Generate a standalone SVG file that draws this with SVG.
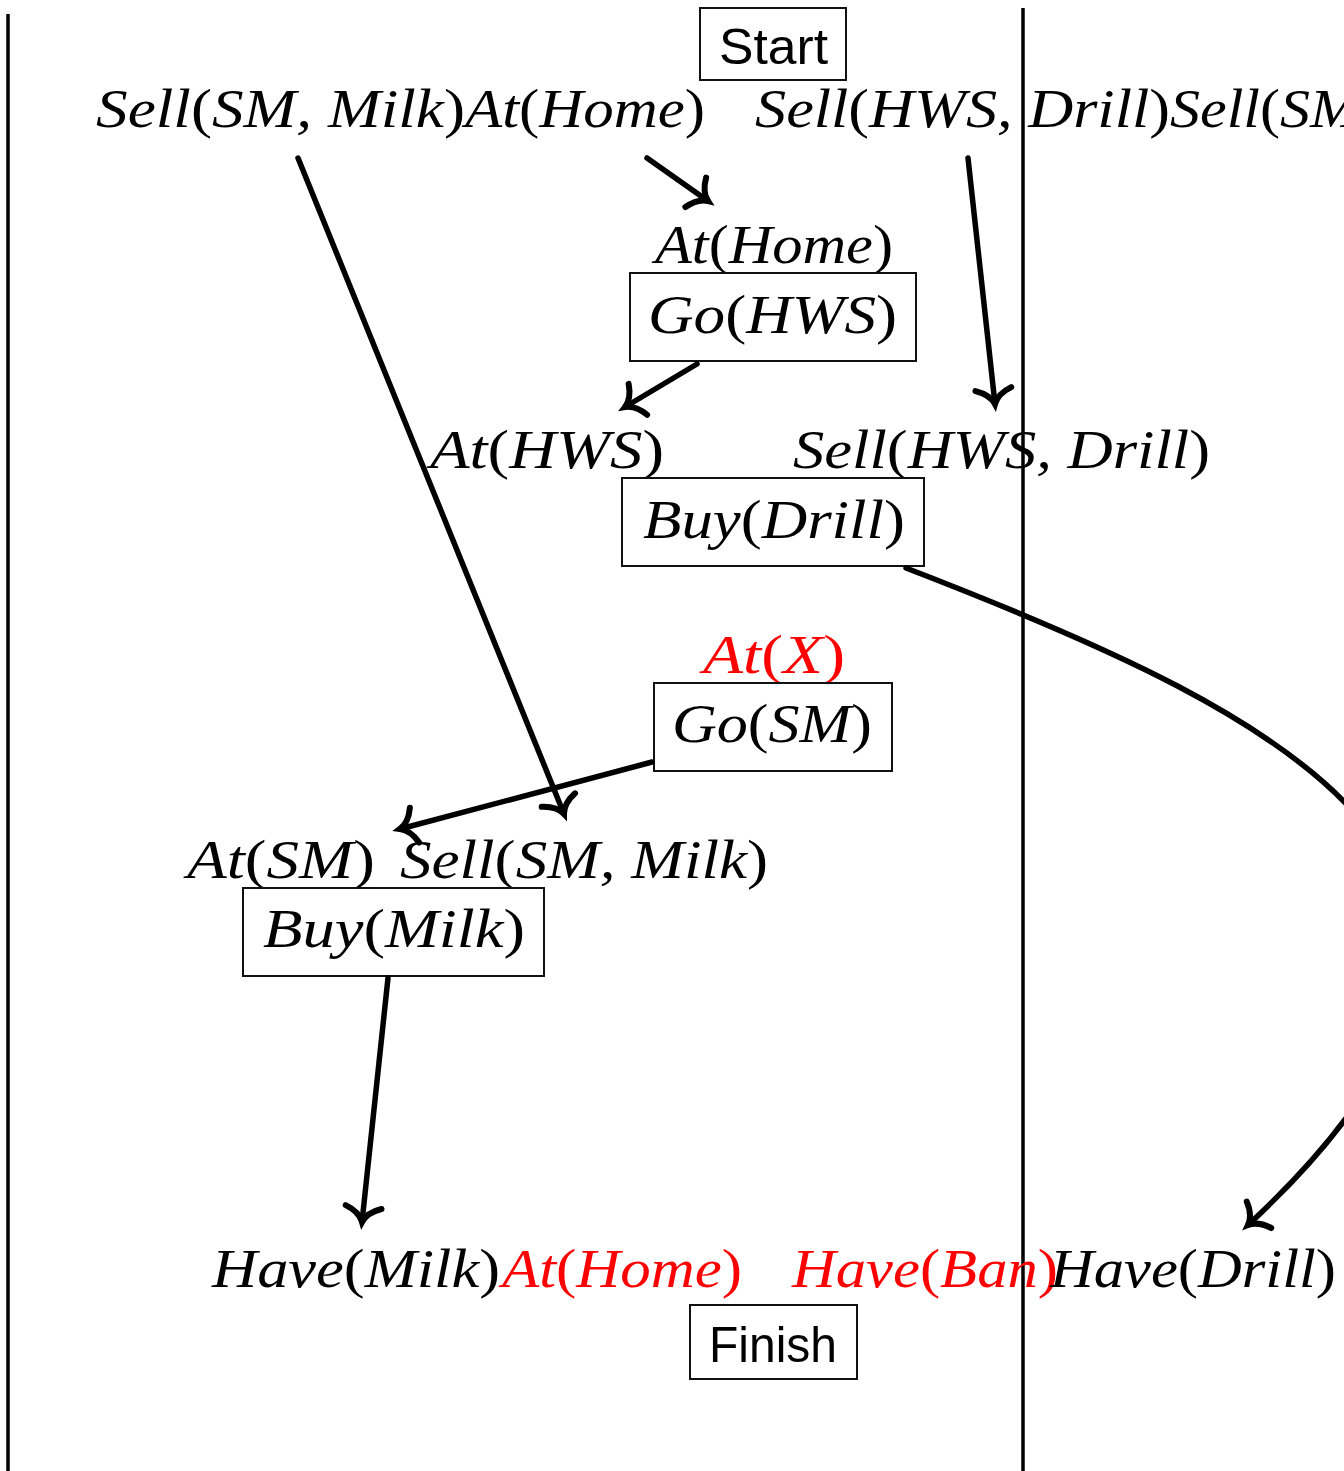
<svg xmlns="http://www.w3.org/2000/svg" width="1344" height="1471" viewBox="0 0 1344 1471">
  <style>
    .m { font-family: "Liberation Serif", "DejaVu Serif", serif; font-style: italic; font-size: 54px; fill: #000; }
    .m .u { font-style: normal; }
    .red { fill: #ff0000; }
    .sans { font-family: "Liberation Sans", "DejaVu Sans", sans-serif; font-size: 50px; fill: #000; }
    .box { fill: #fff; stroke: #111; stroke-width: 2; }
    .rule { stroke: #000; stroke-width: 3.5; }
    .edge { fill: none; stroke: #000; stroke-width: 5.5; stroke-linecap: round; }
  </style>
  <defs>
    <marker id="to" markerUnits="userSpaceOnUse" markerWidth="50" markerHeight="50" viewBox="-25 -25 50 50" refX="0" refY="0" orient="auto" overflow="visible">
      <path d="M -15 -18 C -11 -7 -5 -2 0 0 C -5 2 -11 7 -15 18" fill="none" stroke="#000" stroke-width="6" stroke-linecap="round"/>
    </marker>
  </defs>
  <rect width="1344" height="1471" fill="#fff"/>

  <!-- frame rules -->
  <g id="rules">
    <line class="rule" x1="8" y1="14" x2="8" y2="1471"/>
    <line class="rule" x1="1023" y1="8" x2="1023" y2="1471"/>
  </g>

  <!-- Start step and its effects -->
  <g id="start">
    <rect class="box" x="700" y="8" width="146" height="72"/>
    <text class="sans" x="719" y="64" textLength="109" lengthAdjust="spacingAndGlyphs">Start</text>
    <text class="m" x="96" y="127" textLength="369" lengthAdjust="spacingAndGlyphs">Sell<tspan class="u">(</tspan>SM, Milk<tspan class="u">)</tspan></text>
    <text class="m" x="465" y="127" textLength="240" lengthAdjust="spacingAndGlyphs">At<tspan class="u">(</tspan>Home<tspan class="u">)</tspan></text>
    <text class="m" x="755" y="127" textLength="415" lengthAdjust="spacingAndGlyphs">Sell<tspan class="u">(</tspan>HWS, Drill<tspan class="u">)</tspan></text>
    <text class="m" x="1170" y="127" textLength="190" lengthAdjust="spacingAndGlyphs">Sell<tspan class="u">(</tspan>SM</text>
  </g>

  <!-- Go(HWS) -->
  <g id="go-hws">
    <text class="m" x="655" y="263" textLength="238" lengthAdjust="spacingAndGlyphs">At<tspan class="u">(</tspan>Home<tspan class="u">)</tspan></text>
    <rect class="box" x="630" y="273" width="286" height="88"/>
    <text class="m" x="648" y="333" textLength="249" lengthAdjust="spacingAndGlyphs">Go<tspan class="u">(</tspan>HWS<tspan class="u">)</tspan></text>
  </g>

  <!-- Buy(Drill) -->
  <g id="buy-drill">
    <text class="m" x="430" y="468" textLength="234" lengthAdjust="spacingAndGlyphs">At<tspan class="u">(</tspan>HWS<tspan class="u">)</tspan></text>
    <text class="m" x="793" y="468" textLength="417" lengthAdjust="spacingAndGlyphs">Sell<tspan class="u">(</tspan>HWS, Drill<tspan class="u">)</tspan></text>
    <rect class="box" x="622" y="478" width="302" height="88"/>
    <text class="m" x="643" y="538" textLength="262" lengthAdjust="spacingAndGlyphs">Buy<tspan class="u">(</tspan>Drill<tspan class="u">)</tspan></text>
  </g>

  <!-- Go(SM) -->
  <g id="go-sm">
    <text class="m red" x="703" y="673" textLength="142" lengthAdjust="spacingAndGlyphs">At<tspan class="u">(</tspan>X<tspan class="u">)</tspan></text>
    <rect class="box" x="654" y="683" width="238" height="88"/>
    <text class="m" x="672" y="742" textLength="200" lengthAdjust="spacingAndGlyphs">Go<tspan class="u">(</tspan>SM<tspan class="u">)</tspan></text>
  </g>

  <!-- Buy(Milk) -->
  <g id="buy-milk">
    <text class="m" x="187" y="878" textLength="188" lengthAdjust="spacingAndGlyphs">At<tspan class="u">(</tspan>SM<tspan class="u">)</tspan></text>
    <text class="m" x="400" y="878" textLength="368" lengthAdjust="spacingAndGlyphs">Sell<tspan class="u">(</tspan>SM, Milk<tspan class="u">)</tspan></text>
    <rect class="box" x="243" y="888" width="301" height="88"/>
    <text class="m" x="263" y="947" textLength="262" lengthAdjust="spacingAndGlyphs">Buy<tspan class="u">(</tspan>Milk<tspan class="u">)</tspan></text>
  </g>

  <!-- Finish step and its goals -->
  <g id="finish">
    <text class="m" x="212" y="1287" textLength="288" lengthAdjust="spacingAndGlyphs">Have<tspan class="u">(</tspan>Milk<tspan class="u">)</tspan></text>
    <text class="m red" x="502" y="1287" textLength="240" lengthAdjust="spacingAndGlyphs">At<tspan class="u">(</tspan>Home<tspan class="u">)</tspan></text>
    <text class="m red" x="792" y="1287" textLength="266" lengthAdjust="spacingAndGlyphs">Have<tspan class="u">(</tspan>Ban<tspan class="u">)</tspan></text>
    <text class="m" x="1050" y="1287" textLength="286" lengthAdjust="spacingAndGlyphs">Have<tspan class="u">(</tspan>Drill<tspan class="u">)</tspan></text>
    <rect class="box" x="690" y="1305" width="167" height="74"/>
    <text class="sans" x="709" y="1362" textLength="128" lengthAdjust="spacingAndGlyphs">Finish</text>
  </g>

  <!-- causal links -->
  <g id="connectors">
    <line class="edge" x1="298" y1="158" x2="564" y2="814" marker-end="url(#to)"/>
    <line class="edge" x1="647" y1="158" x2="708" y2="201" marker-end="url(#to)"/>
    <line class="edge" x1="968" y1="158" x2="995" y2="404" marker-end="url(#to)"/>
    <line class="edge" x1="697" y1="364" x2="625" y2="407" marker-end="url(#to)"/>
    <path class="edge" d="M 906 568 C 1300 720 1620 880 1248 1225" marker-end="url(#to)"/>
    <line class="edge" x1="652" y1="762" x2="400" y2="829" marker-end="url(#to)"/>
    <line class="edge" x1="388" y1="978" x2="362" y2="1222" marker-end="url(#to)"/>
  </g>
</svg>
